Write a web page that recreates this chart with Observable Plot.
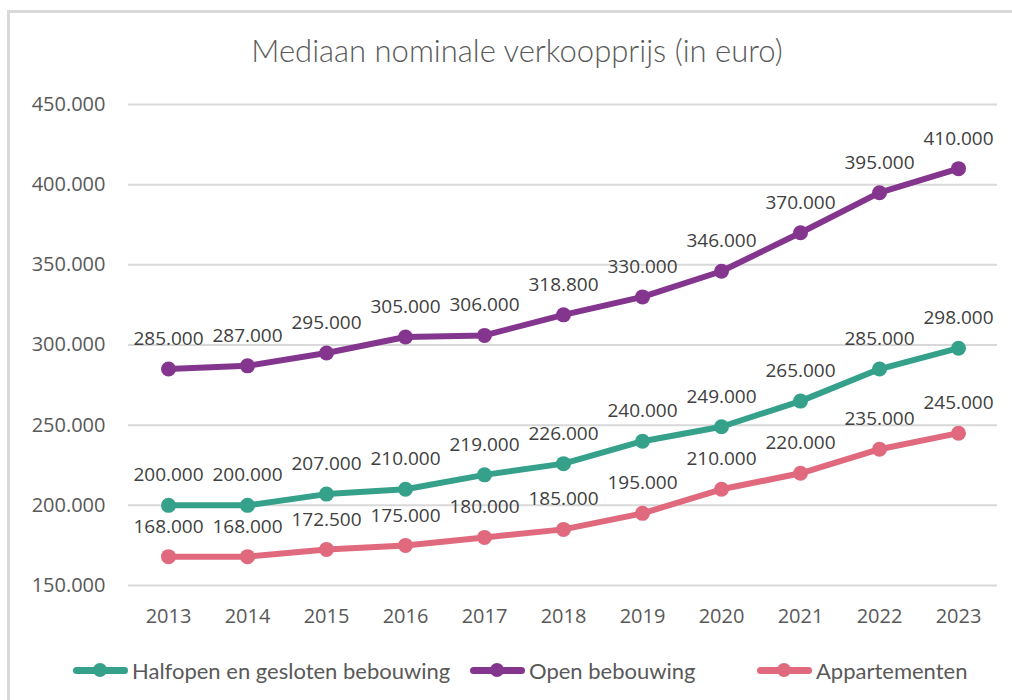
<!DOCTYPE html>
<html>
<head>
<meta charset="utf-8">
<script src="https://cdn.jsdelivr.net/npm/d3@7"></script>
<script src="https://cdn.jsdelivr.net/npm/@observablehq/plot@0.6"></script>
<style>
  html, body { margin: 0; padding: 0; background: #fff; }
  body { width: 1012px; height: 700px; position: relative; overflow: hidden; }
  #frame { position: absolute; left: 7px; top: 10px; width: 1100px; height: 800px; border-left: 3px solid #d9d9d9; border-top: 3px solid #d9d9d9; box-sizing: border-box; }
  #title { position: absolute; left: 0; width: 1034px; top: 31px; text-align: center; font-family: Lato, sans-serif; font-weight: 300; font-size: 31px; color: #595959; }
  #chart { position: absolute; left: 0; top: 0; }
  #legend { position: absolute; top: 655px; left: 0; font-family: Lato, sans-serif; font-size: 22px; color: #595959; }
  .item { position: absolute; white-space: nowrap; display: flex; align-items: center; height: 30px; }
  .sw { position: relative; width: 55px; height: 30px; margin-right: 4px; }
  .sw .ln { position: absolute; left: 0; right: 0; top: 11.5px; height: 7px; border-radius: 4px; }
  .sw .dt { position: absolute; left: 20px; top: 8px; width: 14px; height: 14px; border-radius: 50%; }
</style>
</head>
<body>
<div id="frame"></div>
<div id="title">Mediaan nominale verkoopprijs (in euro)</div>
<div id="chart"></div>
<div id="legend"></div>
<script>
const years = [2013, 2014, 2015, 2016, 2017, 2018, 2019, 2020, 2021, 2022, 2023];
const halfopen = [200000, 200000, 207000, 210000, 219000, 226000, 240000, 249000, 265000, 285000, 298000];
const open = [285000, 287000, 295000, 305000, 306000, 318800, 330000, 346000, 370000, 395000, 410000];
const appartementen = [168000, 168000, 172500, 175000, 180000, 185000, 195000, 210000, 220000, 235000, 245000];
const seriesNames = ["Halfopen en gesloten bebouwing", "Open bebouwing", "Appartementen"];
const seriesColors = ["#36a18b", "#84368e", "#e0697d"];
const yTicks = [150000, 200000, 250000, 300000, 350000, 400000, 450000];

const nl = d3.formatLocale({decimal: ",", thousands: ".", grouping: [3], currency: ["€", ""]});
const fmt = nl.format(",.0f");

const seriesValues = [halfopen, open, appartementen];
const data = [];
seriesValues.forEach((vals, si) => {
  vals.forEach((v, i) => data.push({year: String(years[i]), value: v, series: seriesNames[si]}));
});

const chart = Plot.plot({
  width: 1012,
  height: 640,
  marginTop: 104,
  marginBottom: 55,
  marginLeft: 128,
  marginRight: 15,
  style: {fontFamily: "'Open Sans', sans-serif", background: "transparent", overflow: "visible"},
  x: {type: "point", domain: years.map(String), padding: 0.5, label: null, tickSize: 0, tickPadding: 23},
  y: {domain: [150000, 450000], label: null, ticks: yTicks, tickFormat: fmt, tickSize: 0, tickPadding: 23},
  color: {domain: seriesNames, range: seriesColors},
  marks: [
    Plot.gridY(yTicks, {stroke: "#d9d9d9", strokeOpacity: 1, strokeWidth: 2}),
    Plot.axisY({ticks: yTicks, tickFormat: fmt, tickSize: 0, tickPadding: 23, fontSize: 20, fill: "#595959", label: null}),
    Plot.axisX({tickSize: 0, tickPadding: 23, fontSize: 20, fill: "#595959", label: null}),
    Plot.line(data, {x: "year", y: "value", z: "series", stroke: "series", strokeWidth: 6, strokeLinejoin: "round", strokeLinecap: "round"}),
    Plot.dot(data, {x: "year", y: "value", fill: "series", r: 7.5}),
    Plot.text(data, {x: "year", y: "value", text: d => fmt(d.value), dy: -30, fontSize: 19, fill: "#404040", textAnchor: "middle"})
  ]
});
document.getElementById("chart").appendChild(chart);

const legendPos = [73, 470, 757];
const legend = document.getElementById("legend");
seriesNames.forEach((name, i) => {
  const it = document.createElement("div");
  it.className = "item";
  it.style.left = legendPos[i] + "px";
  it.innerHTML = `<div class="sw"><div class="ln" style="background:${seriesColors[i]}"></div><div class="dt" style="background:${seriesColors[i]}"></div></div><span>${name}</span>`;
  legend.appendChild(it);
});
</script>
</body>
</html>
